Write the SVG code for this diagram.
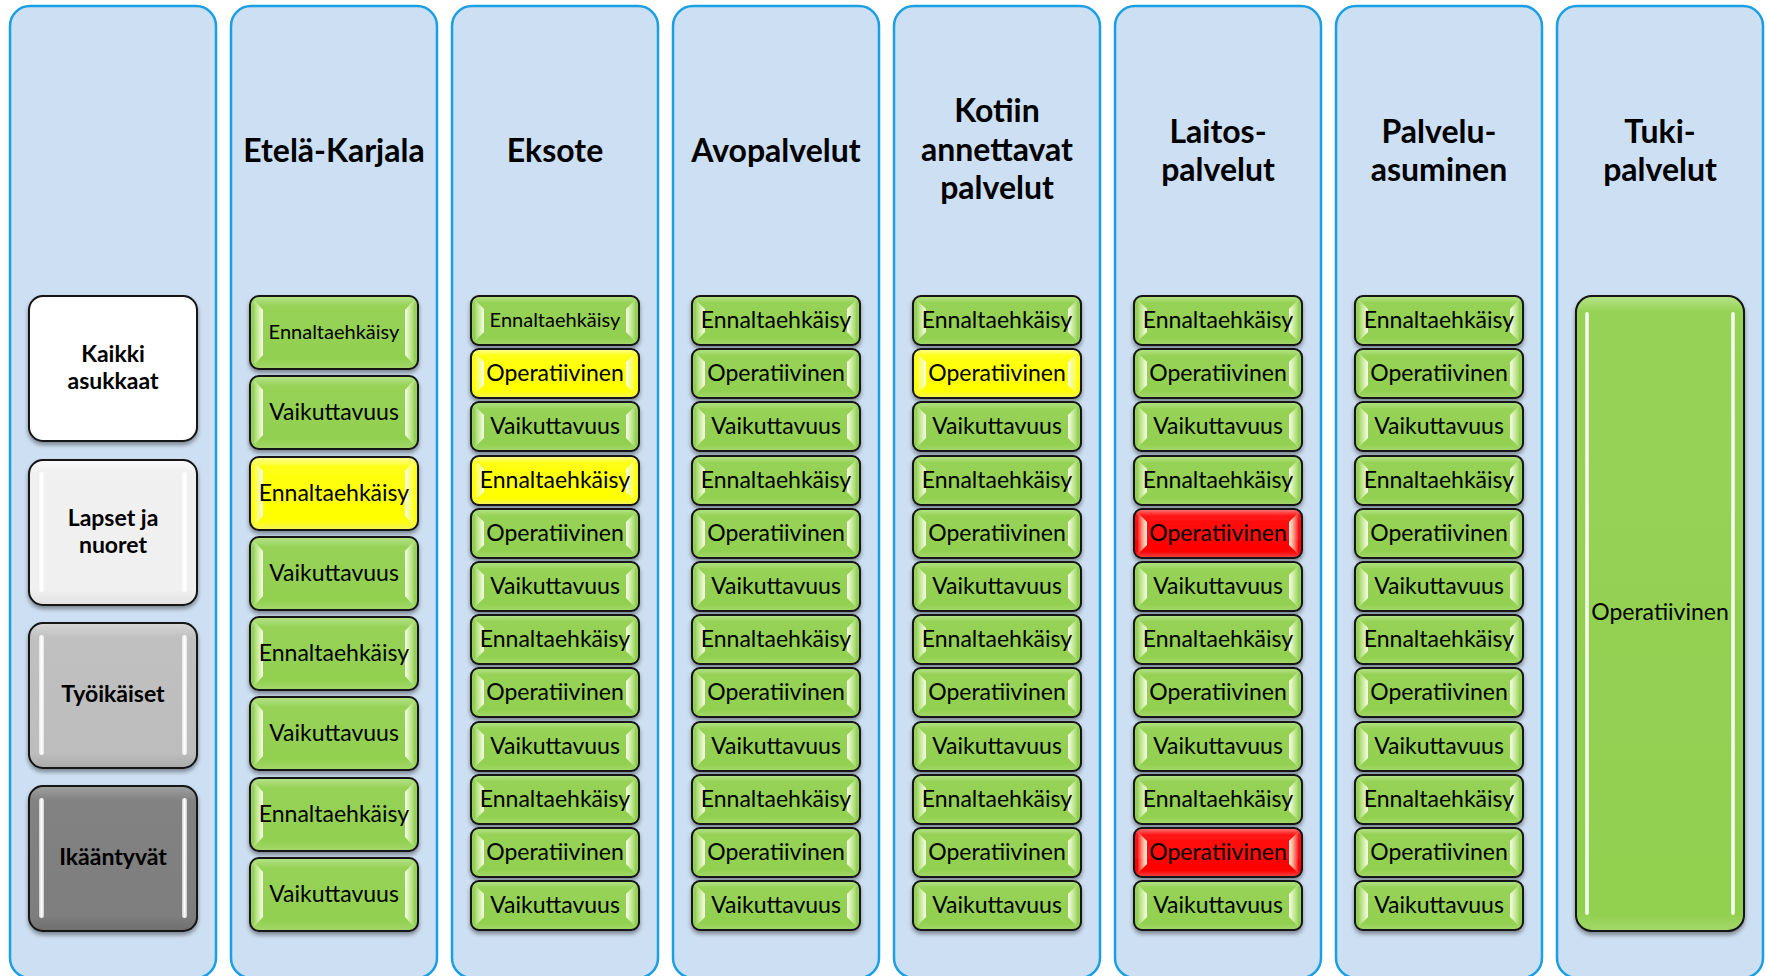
<svg xmlns="http://www.w3.org/2000/svg" xmlns:xlink="http://www.w3.org/1999/xlink" width="1767" height="976" viewBox="0 0 1767 976">
<style>
.col{fill:#cddff2;stroke:#1b9fe3;stroke-width:2.5}
.hdr{font-family:Lato,"Liberation Sans",sans-serif;font-weight:700;font-size:32px;text-anchor:middle;fill:#000}
.t{font-family:Lato,"Liberation Sans",sans-serif;font-size:23px;text-anchor:middle;fill:#000}
.ts{font-size:20px}
.lt{font-family:Lato,"Liberation Sans",sans-serif;font-weight:700;font-size:23px;text-anchor:middle;fill:#000}
.box{stroke:#121212;stroke-width:2;filter:url(#sh)}
.g{fill:url(#gG)}.y{fill:url(#gY)}.r{fill:url(#gR)}.gb{fill:url(#gGB)}
.w{fill:#ffffff}.l1{fill:url(#gL1)}.l2{fill:url(#gL2)}.l3{fill:url(#gL3)}
.bar{fill:url(#gBar)}
</style>
<defs>
<filter id="sh" x="-10%" y="-10%" width="120%" height="130%"><feDropShadow dx="0" dy="3" stdDeviation="2" flood-color="#000" flood-opacity="0.4"/></filter>
<linearGradient id="gG" x1="0" y1="0" x2="0" y2="1"><stop offset="0" stop-color="#b6e48a"/><stop offset="0.14" stop-color="#96d256"/><stop offset="0.86" stop-color="#92d050"/><stop offset="1" stop-color="#a4d86c"/></linearGradient>
<linearGradient id="gGB" x1="0" y1="0" x2="0" y2="1"><stop offset="0" stop-color="#b6e48a"/><stop offset="0.025" stop-color="#96d256"/><stop offset="0.975" stop-color="#92d050"/><stop offset="1" stop-color="#a4d86c"/></linearGradient>
<linearGradient id="gY" x1="0" y1="0" x2="0" y2="1"><stop offset="0" stop-color="#ffff9c"/><stop offset="0.14" stop-color="#ffff14"/><stop offset="0.86" stop-color="#ffff00"/><stop offset="1" stop-color="#f4f460"/></linearGradient>
<linearGradient id="gR" x1="0" y1="0" x2="0" y2="1"><stop offset="0" stop-color="#ff8080"/><stop offset="0.14" stop-color="#ff1414"/><stop offset="0.86" stop-color="#ff0000"/><stop offset="1" stop-color="#ea4a4a"/></linearGradient>
<linearGradient id="gL1" x1="0" y1="0" x2="0" y2="1"><stop offset="0" stop-color="#fafafa"/><stop offset="0.1" stop-color="#f0f0f0"/><stop offset="0.9" stop-color="#f0f0f0"/><stop offset="1" stop-color="#e2e2e2"/></linearGradient>
<linearGradient id="gL2" x1="0" y1="0" x2="0" y2="1"><stop offset="0" stop-color="#d8d8d8"/><stop offset="0.1" stop-color="#c0c0c0"/><stop offset="0.9" stop-color="#bdbdbd"/><stop offset="1" stop-color="#aaaaaa"/></linearGradient>
<linearGradient id="gL3" x1="0" y1="0" x2="0" y2="1"><stop offset="0" stop-color="#a0a0a0"/><stop offset="0.1" stop-color="#828282"/><stop offset="0.9" stop-color="#7e7e7e"/><stop offset="1" stop-color="#6e6e6e"/></linearGradient>
<linearGradient id="bvL" x1="0" y1="0" x2="1" y2="0"><stop offset="0" stop-color="#ffffff" stop-opacity="0.1"/><stop offset="0.6" stop-color="#f2ffd0" stop-opacity="0.7"/><stop offset="1" stop-color="#ffffff" stop-opacity="0.95"/></linearGradient>
<linearGradient id="bvR" x1="1" y1="0" x2="0" y2="0"><stop offset="0" stop-color="#ffffff" stop-opacity="0.1"/><stop offset="0.6" stop-color="#f2ffd0" stop-opacity="0.7"/><stop offset="1" stop-color="#ffffff" stop-opacity="0.95"/></linearGradient>
<linearGradient id="gBar" x1="0" y1="0" x2="1" y2="0"><stop offset="0" stop-color="#ffffff" stop-opacity="0.6"/><stop offset="0.5" stop-color="#ffffff" stop-opacity="1"/><stop offset="1" stop-color="#ffffff" stop-opacity="0.6"/></linearGradient>
<g id="bvS"><polygon points="4,4 13,13 13,36 4,45" fill="url(#bvL)"/><polygon points="164,4 155,13 155,36 164,45" fill="url(#bvR)"/></g>
<g id="bvT"><polygon points="4,4 13,14 13,59 4,69" fill="url(#bvL)"/><polygon points="164,4 155,14 155,59 164,69" fill="url(#bvR)"/></g>
<g id="barsL"><rect class="bar" x="10" y="12" width="5" height="120" rx="2.5"/><rect class="bar" x="153" y="12" width="5" height="120" rx="2.5"/></g>
<g id="barsB"><rect class="bar" x="9" y="16" width="4" height="603" rx="2"/><rect class="bar" x="155" y="16" width="4" height="603" rx="2"/></g>
</defs>

<g id="columns">
<rect class="col" x="10" y="6" width="206" height="972" rx="20"/>
<rect class="col" x="231" y="6" width="206" height="972" rx="20"/>
<rect class="col" x="452" y="6" width="206" height="972" rx="20"/>
<rect class="col" x="673" y="6" width="206" height="972" rx="20"/>
<rect class="col" x="894" y="6" width="206" height="972" rx="20"/>
<rect class="col" x="1115" y="6" width="206" height="972" rx="20"/>
<rect class="col" x="1336" y="6" width="206" height="972" rx="20"/>
<rect class="col" x="1557" y="6" width="206" height="972" rx="20"/>
</g>

<g id="headers">
<text class="hdr" x="334" y="162">Etelä-Karjala</text>
<text class="hdr" x="555" y="162">Eksote</text>
<text class="hdr" x="776" y="162">Avopalvelut</text>
<text class="hdr" x="997" y="122">Kotiin</text>
<text class="hdr" x="997" y="161">annettavat</text>
<text class="hdr" x="997" y="199">palvelut</text>
<text class="hdr" x="1218" y="143">Laitos-</text>
<text class="hdr" x="1218" y="181">palvelut</text>
<text class="hdr" x="1439" y="143">Palvelu-</text>
<text class="hdr" x="1439" y="181">asuminen</text>
<text class="hdr" x="1660" y="143">Tuki-</text>
<text class="hdr" x="1660" y="181">palvelut</text>
</g>

<g id="groups">
<g id="n-kaikki"><rect class="box w" x="29" y="296" width="168" height="145" rx="14"/><text class="lt" x="113" y="362">Kaikki</text><text class="lt" x="113" y="389">asukkaat</text></g>
<g id="n-lapset"><rect class="box l1" x="29" y="460" width="168" height="145" rx="14"/><use href="#barsL" x="29" y="460"/><text class="lt" x="113" y="526">Lapset ja</text><text class="lt" x="113" y="553">nuoret</text></g>
<g id="n-tyoikaiset"><rect class="box l2" x="29" y="623" width="168" height="145" rx="14"/><use href="#barsL" x="29" y="623"/><text class="lt" x="113" y="702">Työikäiset</text></g>
<g id="n-ikaantyvat"><rect class="box l3" x="29" y="786" width="168" height="145" rx="14"/><use href="#barsL" x="29" y="786"/><text class="lt" x="113" y="865">Ikääntyvät</text></g>
</g>

<g id="etela-karjala">
<g id="ek1"><rect class="box g" x="250" y="296" width="168" height="73" rx="9"/><use href="#bvT" x="250" y="296"/><text class="t ts" x="334" y="339">Ennaltaehkäisy</text></g>
<g id="ek2"><rect class="box g" x="250" y="376" width="168" height="73" rx="9"/><use href="#bvT" x="250" y="376"/><text class="t" x="334" y="420">Vaikuttavuus</text></g>
<g id="ek3"><rect class="box y" x="250" y="457" width="168" height="73" rx="9"/><use href="#bvT" x="250" y="457"/><text class="t" x="334" y="501">Ennaltaehkäisy</text></g>
<g id="ek4"><rect class="box g" x="250" y="537" width="168" height="73" rx="9"/><use href="#bvT" x="250" y="537"/><text class="t" x="334" y="581">Vaikuttavuus</text></g>
<g id="ek5"><rect class="box g" x="250" y="617" width="168" height="73" rx="9"/><use href="#bvT" x="250" y="617"/><text class="t" x="334" y="661">Ennaltaehkäisy</text></g>
<g id="ek6"><rect class="box g" x="250" y="697" width="168" height="73" rx="9"/><use href="#bvT" x="250" y="697"/><text class="t" x="334" y="741">Vaikuttavuus</text></g>
<g id="ek7"><rect class="box g" x="250" y="778" width="168" height="73" rx="9"/><use href="#bvT" x="250" y="778"/><text class="t" x="334" y="822">Ennaltaehkäisy</text></g>
<g id="ek8"><rect class="box g" x="250" y="858" width="168" height="73" rx="9"/><use href="#bvT" x="250" y="858"/><text class="t" x="334" y="902">Vaikuttavuus</text></g>
</g>

<g id="eksote">
<g id="es1"><rect class="box g" x="471" y="296" width="168" height="49" rx="8"/><use href="#bvS" x="471" y="296"/><text class="t ts" x="555" y="327">Ennaltaehkäisy</text></g>
<g id="es2"><rect class="box y" x="471" y="349" width="168" height="49" rx="8"/><use href="#bvS" x="471" y="349"/><text class="t" x="555" y="381">Operatiivinen</text></g>
<g id="es3"><rect class="box g" x="471" y="402" width="168" height="49" rx="8"/><use href="#bvS" x="471" y="402"/><text class="t" x="555" y="434">Vaikuttavuus</text></g>
<g id="es4"><rect class="box y" x="471" y="456" width="168" height="49" rx="8"/><use href="#bvS" x="471" y="456"/><text class="t" x="555" y="488">Ennaltaehkäisy</text></g>
<g id="es5"><rect class="box g" x="471" y="509" width="168" height="49" rx="8"/><use href="#bvS" x="471" y="509"/><text class="t" x="555" y="541">Operatiivinen</text></g>
<g id="es6"><rect class="box g" x="471" y="562" width="168" height="49" rx="8"/><use href="#bvS" x="471" y="562"/><text class="t" x="555" y="594">Vaikuttavuus</text></g>
<g id="es7"><rect class="box g" x="471" y="615" width="168" height="49" rx="8"/><use href="#bvS" x="471" y="615"/><text class="t" x="555" y="647">Ennaltaehkäisy</text></g>
<g id="es8"><rect class="box g" x="471" y="668" width="168" height="49" rx="8"/><use href="#bvS" x="471" y="668"/><text class="t" x="555" y="700">Operatiivinen</text></g>
<g id="es9"><rect class="box g" x="471" y="722" width="168" height="49" rx="8"/><use href="#bvS" x="471" y="722"/><text class="t" x="555" y="754">Vaikuttavuus</text></g>
<g id="es10"><rect class="box g" x="471" y="775" width="168" height="49" rx="8"/><use href="#bvS" x="471" y="775"/><text class="t" x="555" y="807">Ennaltaehkäisy</text></g>
<g id="es11"><rect class="box g" x="471" y="828" width="168" height="49" rx="8"/><use href="#bvS" x="471" y="828"/><text class="t" x="555" y="860">Operatiivinen</text></g>
<g id="es12"><rect class="box g" x="471" y="881" width="168" height="49" rx="8"/><use href="#bvS" x="471" y="881"/><text class="t" x="555" y="913">Vaikuttavuus</text></g>
</g>

<g id="avopalvelut">
<g id="ap1"><rect class="box g" x="692" y="296" width="168" height="49" rx="8"/><use href="#bvS" x="692" y="296"/><text class="t" x="776" y="328">Ennaltaehkäisy</text></g>
<g id="ap2"><rect class="box g" x="692" y="349" width="168" height="49" rx="8"/><use href="#bvS" x="692" y="349"/><text class="t" x="776" y="381">Operatiivinen</text></g>
<g id="ap3"><rect class="box g" x="692" y="402" width="168" height="49" rx="8"/><use href="#bvS" x="692" y="402"/><text class="t" x="776" y="434">Vaikuttavuus</text></g>
<g id="ap4"><rect class="box g" x="692" y="456" width="168" height="49" rx="8"/><use href="#bvS" x="692" y="456"/><text class="t" x="776" y="488">Ennaltaehkäisy</text></g>
<g id="ap5"><rect class="box g" x="692" y="509" width="168" height="49" rx="8"/><use href="#bvS" x="692" y="509"/><text class="t" x="776" y="541">Operatiivinen</text></g>
<g id="ap6"><rect class="box g" x="692" y="562" width="168" height="49" rx="8"/><use href="#bvS" x="692" y="562"/><text class="t" x="776" y="594">Vaikuttavuus</text></g>
<g id="ap7"><rect class="box g" x="692" y="615" width="168" height="49" rx="8"/><use href="#bvS" x="692" y="615"/><text class="t" x="776" y="647">Ennaltaehkäisy</text></g>
<g id="ap8"><rect class="box g" x="692" y="668" width="168" height="49" rx="8"/><use href="#bvS" x="692" y="668"/><text class="t" x="776" y="700">Operatiivinen</text></g>
<g id="ap9"><rect class="box g" x="692" y="722" width="168" height="49" rx="8"/><use href="#bvS" x="692" y="722"/><text class="t" x="776" y="754">Vaikuttavuus</text></g>
<g id="ap10"><rect class="box g" x="692" y="775" width="168" height="49" rx="8"/><use href="#bvS" x="692" y="775"/><text class="t" x="776" y="807">Ennaltaehkäisy</text></g>
<g id="ap11"><rect class="box g" x="692" y="828" width="168" height="49" rx="8"/><use href="#bvS" x="692" y="828"/><text class="t" x="776" y="860">Operatiivinen</text></g>
<g id="ap12"><rect class="box g" x="692" y="881" width="168" height="49" rx="8"/><use href="#bvS" x="692" y="881"/><text class="t" x="776" y="913">Vaikuttavuus</text></g>
</g>

<g id="kotiin">
<g id="ko1"><rect class="box g" x="913" y="296" width="168" height="49" rx="8"/><use href="#bvS" x="913" y="296"/><text class="t" x="997" y="328">Ennaltaehkäisy</text></g>
<g id="ko2"><rect class="box y" x="913" y="349" width="168" height="49" rx="8"/><use href="#bvS" x="913" y="349"/><text class="t" x="997" y="381">Operatiivinen</text></g>
<g id="ko3"><rect class="box g" x="913" y="402" width="168" height="49" rx="8"/><use href="#bvS" x="913" y="402"/><text class="t" x="997" y="434">Vaikuttavuus</text></g>
<g id="ko4"><rect class="box g" x="913" y="456" width="168" height="49" rx="8"/><use href="#bvS" x="913" y="456"/><text class="t" x="997" y="488">Ennaltaehkäisy</text></g>
<g id="ko5"><rect class="box g" x="913" y="509" width="168" height="49" rx="8"/><use href="#bvS" x="913" y="509"/><text class="t" x="997" y="541">Operatiivinen</text></g>
<g id="ko6"><rect class="box g" x="913" y="562" width="168" height="49" rx="8"/><use href="#bvS" x="913" y="562"/><text class="t" x="997" y="594">Vaikuttavuus</text></g>
<g id="ko7"><rect class="box g" x="913" y="615" width="168" height="49" rx="8"/><use href="#bvS" x="913" y="615"/><text class="t" x="997" y="647">Ennaltaehkäisy</text></g>
<g id="ko8"><rect class="box g" x="913" y="668" width="168" height="49" rx="8"/><use href="#bvS" x="913" y="668"/><text class="t" x="997" y="700">Operatiivinen</text></g>
<g id="ko9"><rect class="box g" x="913" y="722" width="168" height="49" rx="8"/><use href="#bvS" x="913" y="722"/><text class="t" x="997" y="754">Vaikuttavuus</text></g>
<g id="ko10"><rect class="box g" x="913" y="775" width="168" height="49" rx="8"/><use href="#bvS" x="913" y="775"/><text class="t" x="997" y="807">Ennaltaehkäisy</text></g>
<g id="ko11"><rect class="box g" x="913" y="828" width="168" height="49" rx="8"/><use href="#bvS" x="913" y="828"/><text class="t" x="997" y="860">Operatiivinen</text></g>
<g id="ko12"><rect class="box g" x="913" y="881" width="168" height="49" rx="8"/><use href="#bvS" x="913" y="881"/><text class="t" x="997" y="913">Vaikuttavuus</text></g>
</g>

<g id="laitos">
<g id="la1"><rect class="box g" x="1134" y="296" width="168" height="49" rx="8"/><use href="#bvS" x="1134" y="296"/><text class="t" x="1218" y="328">Ennaltaehkäisy</text></g>
<g id="la2"><rect class="box g" x="1134" y="349" width="168" height="49" rx="8"/><use href="#bvS" x="1134" y="349"/><text class="t" x="1218" y="381">Operatiivinen</text></g>
<g id="la3"><rect class="box g" x="1134" y="402" width="168" height="49" rx="8"/><use href="#bvS" x="1134" y="402"/><text class="t" x="1218" y="434">Vaikuttavuus</text></g>
<g id="la4"><rect class="box g" x="1134" y="456" width="168" height="49" rx="8"/><use href="#bvS" x="1134" y="456"/><text class="t" x="1218" y="488">Ennaltaehkäisy</text></g>
<g id="la5"><rect class="box r" x="1134" y="509" width="168" height="49" rx="8"/><use href="#bvS" x="1134" y="509"/><text class="t" x="1218" y="541">Operatiivinen</text></g>
<g id="la6"><rect class="box g" x="1134" y="562" width="168" height="49" rx="8"/><use href="#bvS" x="1134" y="562"/><text class="t" x="1218" y="594">Vaikuttavuus</text></g>
<g id="la7"><rect class="box g" x="1134" y="615" width="168" height="49" rx="8"/><use href="#bvS" x="1134" y="615"/><text class="t" x="1218" y="647">Ennaltaehkäisy</text></g>
<g id="la8"><rect class="box g" x="1134" y="668" width="168" height="49" rx="8"/><use href="#bvS" x="1134" y="668"/><text class="t" x="1218" y="700">Operatiivinen</text></g>
<g id="la9"><rect class="box g" x="1134" y="722" width="168" height="49" rx="8"/><use href="#bvS" x="1134" y="722"/><text class="t" x="1218" y="754">Vaikuttavuus</text></g>
<g id="la10"><rect class="box g" x="1134" y="775" width="168" height="49" rx="8"/><use href="#bvS" x="1134" y="775"/><text class="t" x="1218" y="807">Ennaltaehkäisy</text></g>
<g id="la11"><rect class="box r" x="1134" y="828" width="168" height="49" rx="8"/><use href="#bvS" x="1134" y="828"/><text class="t" x="1218" y="860">Operatiivinen</text></g>
<g id="la12"><rect class="box g" x="1134" y="881" width="168" height="49" rx="8"/><use href="#bvS" x="1134" y="881"/><text class="t" x="1218" y="913">Vaikuttavuus</text></g>
</g>

<g id="palveluasuminen">
<g id="pa1"><rect class="box g" x="1355" y="296" width="168" height="49" rx="8"/><use href="#bvS" x="1355" y="296"/><text class="t" x="1439" y="328">Ennaltaehkäisy</text></g>
<g id="pa2"><rect class="box g" x="1355" y="349" width="168" height="49" rx="8"/><use href="#bvS" x="1355" y="349"/><text class="t" x="1439" y="381">Operatiivinen</text></g>
<g id="pa3"><rect class="box g" x="1355" y="402" width="168" height="49" rx="8"/><use href="#bvS" x="1355" y="402"/><text class="t" x="1439" y="434">Vaikuttavuus</text></g>
<g id="pa4"><rect class="box g" x="1355" y="456" width="168" height="49" rx="8"/><use href="#bvS" x="1355" y="456"/><text class="t" x="1439" y="488">Ennaltaehkäisy</text></g>
<g id="pa5"><rect class="box g" x="1355" y="509" width="168" height="49" rx="8"/><use href="#bvS" x="1355" y="509"/><text class="t" x="1439" y="541">Operatiivinen</text></g>
<g id="pa6"><rect class="box g" x="1355" y="562" width="168" height="49" rx="8"/><use href="#bvS" x="1355" y="562"/><text class="t" x="1439" y="594">Vaikuttavuus</text></g>
<g id="pa7"><rect class="box g" x="1355" y="615" width="168" height="49" rx="8"/><use href="#bvS" x="1355" y="615"/><text class="t" x="1439" y="647">Ennaltaehkäisy</text></g>
<g id="pa8"><rect class="box g" x="1355" y="668" width="168" height="49" rx="8"/><use href="#bvS" x="1355" y="668"/><text class="t" x="1439" y="700">Operatiivinen</text></g>
<g id="pa9"><rect class="box g" x="1355" y="722" width="168" height="49" rx="8"/><use href="#bvS" x="1355" y="722"/><text class="t" x="1439" y="754">Vaikuttavuus</text></g>
<g id="pa10"><rect class="box g" x="1355" y="775" width="168" height="49" rx="8"/><use href="#bvS" x="1355" y="775"/><text class="t" x="1439" y="807">Ennaltaehkäisy</text></g>
<g id="pa11"><rect class="box g" x="1355" y="828" width="168" height="49" rx="8"/><use href="#bvS" x="1355" y="828"/><text class="t" x="1439" y="860">Operatiivinen</text></g>
<g id="pa12"><rect class="box g" x="1355" y="881" width="168" height="49" rx="8"/><use href="#bvS" x="1355" y="881"/><text class="t" x="1439" y="913">Vaikuttavuus</text></g>
</g>

<g id="tukipalvelut">
<g id="tu1"><rect class="box gb" x="1576" y="296" width="168" height="635" rx="16"/><use href="#barsB" x="1576" y="296"/><text class="t" x="1660" y="620">Operatiivinen</text></g>
</g>

<g id="connectors"/>
</svg>
